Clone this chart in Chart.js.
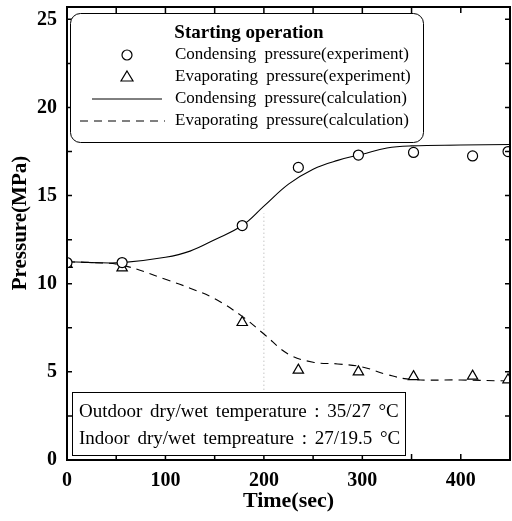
<!doctype html>
<html>
<head>
<meta charset="UTF-8">
<title>Starting operation</title>
<script src="https://cdn.jsdelivr.net/npm/chart.js@4.4.1/dist/chart.umd.min.js"></script>
<style>
  html, body { margin: 0; padding: 0; background: #fff; }
  #wrap { width: 512px; height: 521px; }
</style>
</head>
<body>
<div id="wrap"><canvas id="myChart" width="512" height="521"></canvas></div>

<script>
// measured points
var timeExp = [0, 56, 178, 235, 296, 352, 412, 448];
var condExp = [11.2, 11.2, 13.3, 16.6, 17.3, 17.45, 17.25, 17.5];
var evapExp = [11.1, 10.9, 7.8, 5.1, 5.0, 4.73, 4.76, 4.55];

// calculated curves
var timeCalc = [0, 25, 56, 100, 125, 150, 178, 200, 225, 250, 275, 300, 325, 350, 400, 450];
var condCalc = [11.25, 11.2, 11.2, 11.5, 11.85, 12.5, 13.3, 14.4, 15.65, 16.5, 17.0, 17.35, 17.7, 17.82, 17.87, 17.9];
var evapCalc = [11.25, 11.2, 11.05, 10.25, 9.75, 9.15, 8.15, 7.15, 6.0, 5.55, 5.45, 5.28, 4.85, 4.57, 4.54, 4.48];

// faint dotted mark at t = 200
var refX = [200, 200];
var refY = [2.4, 14];

var xTicks = [0, 100, 200, 300, 400];
var yTicks = [0, 5, 10, 15, 20, 25];

var legendTitle = 'Starting operation';
var legendLabels = [
  'Condensing pressure(experiment)',
  'Evaporating pressure(experiment)',
  'Condensing pressure(calculation)',
  'Evaporating pressure(calculation)'
];
var infoLines = [
  'Outdoor dry/wet temperature : 35/27 \u00B0C',
  'Indoor dry/wet tempreature : 27/19.5 \u00B0C'
];

function pairs(xs, ys) {
  var out = [];
  for (var i = 0; i < xs.length; i++) out.push({x: xs[i], y: ys[i]});
  return out;
}

var serif = '"Liberation Serif", "Times New Roman", serif';

var framePlugin = {
  id: 'frame',
  afterDraw: function(chart) {
    var ctx = chart.ctx;
    var a = chart.chartArea;
    var xs = chart.scales.x, ys = chart.scales.y;
    ctx.save();
    ctx.strokeStyle = '#000';
    ctx.lineWidth = 2;
    ctx.strokeRect(a.left, a.top, a.right - a.left, a.bottom - a.top);

    // inward ticks
    ctx.lineWidth = 1.5;
    ctx.beginPath();
    for (var t = 50; t < 450; t += 50) {
      var px = xs.getPixelForValue(t);
      ctx.moveTo(px, a.bottom); ctx.lineTo(px, a.bottom - 6);
      ctx.moveTo(px, a.top); ctx.lineTo(px, a.top + 6);
    }
    for (var v = 2.5; v < 25.7; v += 2.5) {
      var py = ys.getPixelForValue(v);
      ctx.moveTo(a.left, py); ctx.lineTo(a.left + 5, py);
      ctx.moveTo(a.right, py); ctx.lineTo(a.right - 5, py);
    }
    ctx.stroke();

    // y title
    ctx.fillStyle = '#000';
    ctx.font = 'bold 21px ' + serif;
    ctx.textAlign = 'center';
    ctx.textBaseline = 'middle';
    ctx.translate(21, 223);
    ctx.rotate(-Math.PI / 2);
    ctx.fillText('Pressure(MPa)', 0, 0);
    ctx.restore();

    // legend box
    ctx.save();
    ctx.fillStyle = '#fff';
    ctx.strokeStyle = '#000';
    ctx.lineWidth = 1;
    ctx.beginPath();
    ctx.roundRect(70.5, 13.5, 353, 129, 10);
    ctx.fill();
    ctx.stroke();
    ctx.fillStyle = '#000';
    ctx.textBaseline = 'middle';
    ctx.textAlign = 'center';
    ctx.font = 'bold 19px ' + serif;
    ctx.fillText(legendTitle, 249, 33);
    ctx.textAlign = 'left';
    ctx.font = '17px ' + serif;
    if ('wordSpacing' in ctx) ctx.wordSpacing = '4px';
    var rowY = [55, 77, 99, 121];
    for (var i = 0; i < legendLabels.length; i++) {
      ctx.fillText(legendLabels[i], 175, rowY[i]);
    }
    ctx.lineWidth = 1.2;
    ctx.beginPath();
    ctx.arc(127, rowY[0], 5, 0, Math.PI * 2);
    ctx.stroke();
    ctx.beginPath();
    ctx.moveTo(127, rowY[1] - 6);
    ctx.lineTo(133, rowY[1] + 4);
    ctx.lineTo(121, rowY[1] + 4);
    ctx.closePath();
    ctx.stroke();
    ctx.lineWidth = 1;
    ctx.beginPath();
    ctx.moveTo(92, rowY[2]); ctx.lineTo(162, rowY[2]);
    ctx.stroke();
    ctx.setLineDash([8, 6]);
    ctx.beginPath();
    ctx.moveTo(80, rowY[3]); ctx.lineTo(165, rowY[3]);
    ctx.stroke();
    ctx.setLineDash([]);

    // info box
    ctx.fillStyle = '#fff';
    ctx.fillRect(72.5, 392.5, 333, 63);
    ctx.strokeRect(72.5, 392.5, 333, 63);
    ctx.fillStyle = '#000';
    ctx.font = '19px ' + serif;
    if ('wordSpacing' in ctx) ctx.wordSpacing = '3px';
    ctx.fillText(infoLines[0], 79, 412);
    ctx.fillText(infoLines[1], 79, 439);
    ctx.restore();
  }
};

var ctx = document.getElementById('myChart').getContext('2d');
var myChart = new Chart(ctx, {
  type: 'scatter',
  data: {
    datasets: [
      {
        label: legendLabels[0],
        data: pairs(timeExp, condExp),
        pointStyle: 'circle',
        pointRadius: 5,
        pointBackgroundColor: '#fff',
        pointBorderColor: '#000',
        pointBorderWidth: 1.2,
        showLine: false,
        order: 0
      },
      {
        label: legendLabels[1],
        data: pairs(timeExp, evapExp),
        pointStyle: 'triangle',
        pointRadius: 6,
        pointBackgroundColor: '#fff',
        pointBorderColor: '#000',
        pointBorderWidth: 1.2,
        showLine: false,
        order: 0
      },
      {
        label: legendLabels[2],
        data: pairs(timeCalc, condCalc),
        showLine: true,
        borderColor: '#000',
        borderWidth: 1.1,
        pointRadius: 0,
        tension: 0.4,
        order: 1
      },
      {
        label: legendLabels[3],
        data: pairs(timeCalc, evapCalc),
        showLine: true,
        borderColor: '#000',
        borderWidth: 1.1,
        borderDash: [8, 6],
        pointRadius: 0,
        tension: 0.4,
        order: 1
      },
      {
        label: 'ref',
        data: pairs(refX, refY),
        showLine: true,
        borderColor: '#aaa',
        borderWidth: 1,
        borderDash: [1, 3],
        pointRadius: 0,
        order: 2
      }
    ]
  },
  options: {
    responsive: false,
    animation: false,
    layout: { autoPadding: false, padding: { top: 7, right: 2, left: 0, bottom: 0 } },
    plugins: { legend: { display: false }, tooltip: { enabled: false } },
    scales: {
      x: {
        type: 'linear',
        min: 0, max: 450,
        afterFit: function(s) { s.height = 61; s.paddingLeft = 0; s.paddingRight = 0; },
        afterBuildTicks: function(s) { s.ticks = xTicks.map(function(v) { return {value: v}; }); },
        grid: { display: false, drawTicks: false },
        border: { display: false },
        ticks: { color: '#000', padding: 9, font: { family: serif, size: 20, weight: 'bold' } },
        title: {
          display: true, text: 'Time(sec)', color: '#000',
          font: { family: serif, size: 22, weight: 'bold' },
          padding: { top: 0, bottom: 6 }
        }
      },
      y: {
        type: 'linear',
        min: 0, max: 25.7,
        afterFit: function(s) { s.width = 67; s.paddingTop = 0; s.paddingBottom = 0; },
        afterBuildTicks: function(s) { s.ticks = yTicks.map(function(v) { return {value: v}; }); },
        grid: { display: false, drawTicks: false },
        border: { display: false },
        ticks: { color: '#000', padding: 10, font: { family: serif, size: 20, weight: 'bold' } }
      }
    }
  },
  plugins: [framePlugin]
});
</script>
</body>
</html>
